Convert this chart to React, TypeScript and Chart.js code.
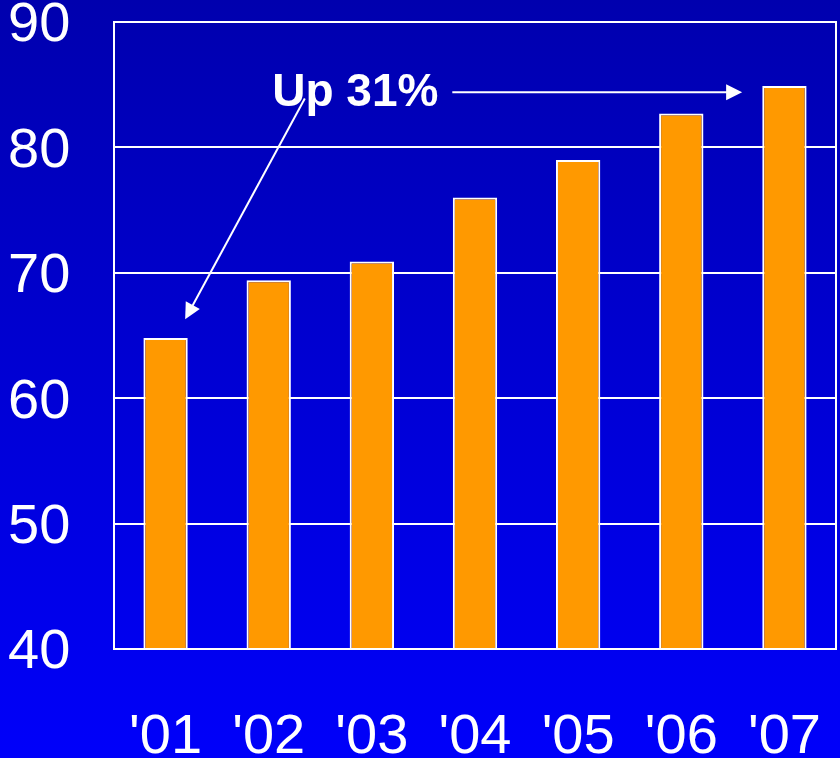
import React, { useEffect, useRef } from "react";
import { Chart, registerables } from "chart.js";

Chart.register(...registerables);

const categories = ["'01", "'02", "'03", "'04", "'05", "'06", "'07"];
const values = [64.8, 69.4, 70.9, 76.0, 79.0, 82.7, 84.9];
const yTicks = [40, 50, 60, 70, 80, 90];
const annotationText = "Up 31%";
// annotation anchors in data terms: [category index (fractional), value]
const labelAnchor = [1.84, 84.3];
const hArrowFrom = [2.78, 84.4];
const hArrowTo = [5.59, 84.4];
const dArrowFrom = [1.35, 83.9];
const dArrowTo = [0.19, 66.3];

const FONT = "'Liberation Sans', Arial, sans-serif";

function drawArrow(ctx: CanvasRenderingContext2D, x1: number, y1: number, x2: number, y2: number) {
  const ang = Math.atan2(y2 - y1, x2 - x1);
  const hl = 16;
  const hw = 8;
  ctx.beginPath();
  ctx.moveTo(x1, y1);
  ctx.lineTo(x2 - Math.cos(ang) * hl * 0.8, y2 - Math.sin(ang) * hl * 0.8);
  ctx.stroke();
  ctx.beginPath();
  ctx.moveTo(x2, y2);
  ctx.lineTo(x2 - Math.cos(ang) * hl - Math.sin(ang) * hw, y2 - Math.sin(ang) * hl + Math.cos(ang) * hw);
  ctx.lineTo(x2 - Math.cos(ang) * hl + Math.sin(ang) * hw, y2 - Math.sin(ang) * hl - Math.cos(ang) * hw);
  ctx.closePath();
  ctx.fill();
}

const bgPlugin = {
  id: "bg",
  beforeDraw(chart: any) {
    const { ctx, width, height } = chart;
    const g = ctx.createLinearGradient(0, 0, 0, height);
    g.addColorStop(0, "#0000AE");
    g.addColorStop(1, "#0000FA");
    ctx.save();
    ctx.fillStyle = g;
    ctx.fillRect(0, 0, width, height);
    ctx.restore();
  },
};

const framePlugin = {
  id: "frame",
  afterDatasetsDraw(chart: any) {
    const { ctx, chartArea } = chart;
    ctx.save();
    ctx.strokeStyle = "#FFFFFF";
    ctx.lineWidth = 2;
    ctx.strokeRect(chartArea.left, chartArea.top, chartArea.right - chartArea.left, chartArea.bottom - chartArea.top);
    ctx.restore();
  },
  afterDraw(chart: any) {
    const { ctx } = chart;
    const xs = chart.scales.x;
    const ys = chart.scales.y;
    const px = (a: number[]) => [xs.getPixelForValue(a[0]), ys.getPixelForValue(a[1])];
    ctx.save();
    ctx.fillStyle = "#FFFFFF";
    ctx.strokeStyle = "#FFFFFF";
    ctx.lineWidth = 2;
    const [lx, ly] = px(labelAnchor);
    ctx.font = `bold 46px ${FONT}`;
    ctx.textAlign = "center";
    ctx.textBaseline = "middle";
    ctx.fillText(annotationText, lx, ly);
    const [a1, b1] = px(hArrowFrom);
    const [a2, b2] = px(hArrowTo);
    drawArrow(ctx, a1, b1, a2, b2);
    const [c1, d1] = px(dArrowFrom);
    const [c2, d2] = px(dArrowTo);
    drawArrow(ctx, c1, d1, c2, d2);
    ctx.restore();
  },
};

export default function App() {
  const ref = useRef<HTMLCanvasElement>(null);
  useEffect(() => {
    document.body.style.margin = "0";
    const chart = new Chart(ref.current!, {
      type: "bar",
      data: {
        labels: categories,
        datasets: [
          {
            data: values,
            backgroundColor: "#FF9900",
            borderColor: "#FFFFFF",
            borderWidth: 2,
            barPercentage: 0.43,
            categoryPercentage: 1,
          },
        ],
      },
      options: {
        animation: false,
        responsive: false,
        maintainAspectRatio: false,
        layout: { padding: { top: 22, right: 4, left: 8, bottom: 0 } },
        plugins: { legend: { display: false }, tooltip: { enabled: false } },
        scales: {
          x: {
            grid: { display: false },
            border: { display: false },
            ticks: {
              color: "#FFFFFF",
              font: { family: FONT, size: 56 },
              padding: 47,
              maxRotation: 0,
            },
            afterFit: (s: any) => {
              s.height = 109;
              s.paddingLeft = 0;
              s.paddingRight = 0;
            },
          },
          y: {
            min: 40,
            max: 90,
            afterBuildTicks: (s: any) => {
              s.ticks = yTicks.map((v) => ({ value: v }));
            },
            grid: { color: "#FFFFFF", lineWidth: 2, drawTicks: false },
            border: { display: false },
            ticks: {
              color: "#FFFFFF",
              font: { family: FONT, size: 56 },
              crossAlign: "far",
              padding: 10,
              labelOffset: 4,
            },
            afterFit: (s: any) => {
              s.width = 106;
              s.paddingTop = 0;
              s.paddingBottom = 0;
            },
          },
        },
      },
      plugins: [bgPlugin, framePlugin],
    } as any);
    return () => chart.destroy();
  }, []);
  return (
    <div style={{ position: "absolute", left: 0, top: 0, width: 840, height: 758 }}>
      <canvas ref={ref} width={840} height={758} style={{ width: 840, height: 758 }} />
    </div>
  );
}
